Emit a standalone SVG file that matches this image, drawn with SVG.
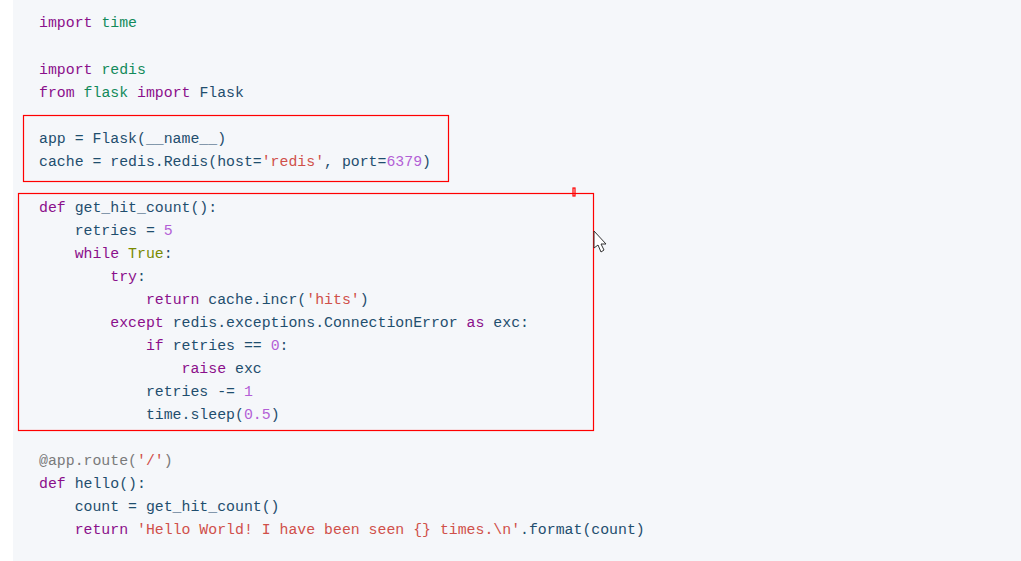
<svg xmlns="http://www.w3.org/2000/svg" width="1021" height="561" viewBox="0 0 1021 561">
<style>
text{font-family:"Liberation Mono","DejaVu Sans Mono",monospace;font-size:14.85px;fill:#1f4e6e;white-space:pre}
.k{fill:#8b0f8b}.m{fill:#128a5a}.s{fill:#d0504a}.n{fill:#b35fd6}.b{fill:#7a8a00}.d{fill:#7a7a7a}
.box{fill:none;stroke:#ff0000;stroke-width:1.2}
</style>
<rect x="0" y="0" width="1021" height="561" fill="#ffffff"/>
<rect x="13" y="0" width="1008" height="561" fill="#f5f7fa"/>
<g id="code" xml:space="preserve">
<text x="39" y="27"><tspan class="k">import</tspan> <tspan class="m">time</tspan></text>
<text x="39" y="74"><tspan class="k">import</tspan> <tspan class="m">redis</tspan></text>
<text x="39" y="97"><tspan class="k">from</tspan> <tspan class="m">flask</tspan> <tspan class="k">import</tspan> Flask</text>
<text x="39" y="143">app = Flask(__name__)</text>
<text x="39" y="166">cache = redis.Redis(host=<tspan class="s">'redis'</tspan>, port=<tspan class="n">6379</tspan>)</text>
<text x="39" y="212"><tspan class="k">def</tspan> get_hit_count():</text>
<text x="39" y="235">    retries = <tspan class="n">5</tspan></text>
<text x="39" y="258">    <tspan class="k">while</tspan> <tspan class="b">True</tspan>:</text>
<text x="39" y="281">        <tspan class="k">try</tspan>:</text>
<text x="39" y="304">            <tspan class="k">return</tspan> cache.incr(<tspan class="s">'hits'</tspan>)</text>
<text x="39" y="327">        <tspan class="k">except</tspan> redis.exceptions.ConnectionError <tspan class="k">as</tspan> exc:</text>
<text x="39" y="350">            <tspan class="k">if</tspan> retries == <tspan class="n">0</tspan>:</text>
<text x="39" y="373">                <tspan class="k">raise</tspan> exc</text>
<text x="39" y="396">            retries -= <tspan class="n">1</tspan></text>
<text x="39" y="419">            time.sleep(<tspan class="n">0.5</tspan>)</text>
<text x="39" y="465"><tspan class="d">@app.route(</tspan><tspan class="s">'/'</tspan><tspan class="d">)</tspan></text>
<text x="39" y="488"><tspan class="k">def</tspan> hello():</text>
<text x="39" y="511">    count = get_hit_count()</text>
<text x="39" y="534">    <tspan class="k">return</tspan> <tspan class="s">'Hello World! I have been seen {} times.\n'</tspan>.format(count)</text>
</g>
<g id="boxes">
<rect class="box" x="23.5" y="115.5" width="425" height="66"/>
<rect class="box" x="18.5" y="193.5" width="575" height="237"/>
<rect class="box" x="573" y="188" width="2" height="8"/>
</g>
<g id="cursor">
<path d="M594 231 L594 248 L598 245 L601 252 L604 250 L601 244 L606 244 Z" fill="#ffffff" stroke="#333" stroke-width="1"/>
</g>
</svg>
